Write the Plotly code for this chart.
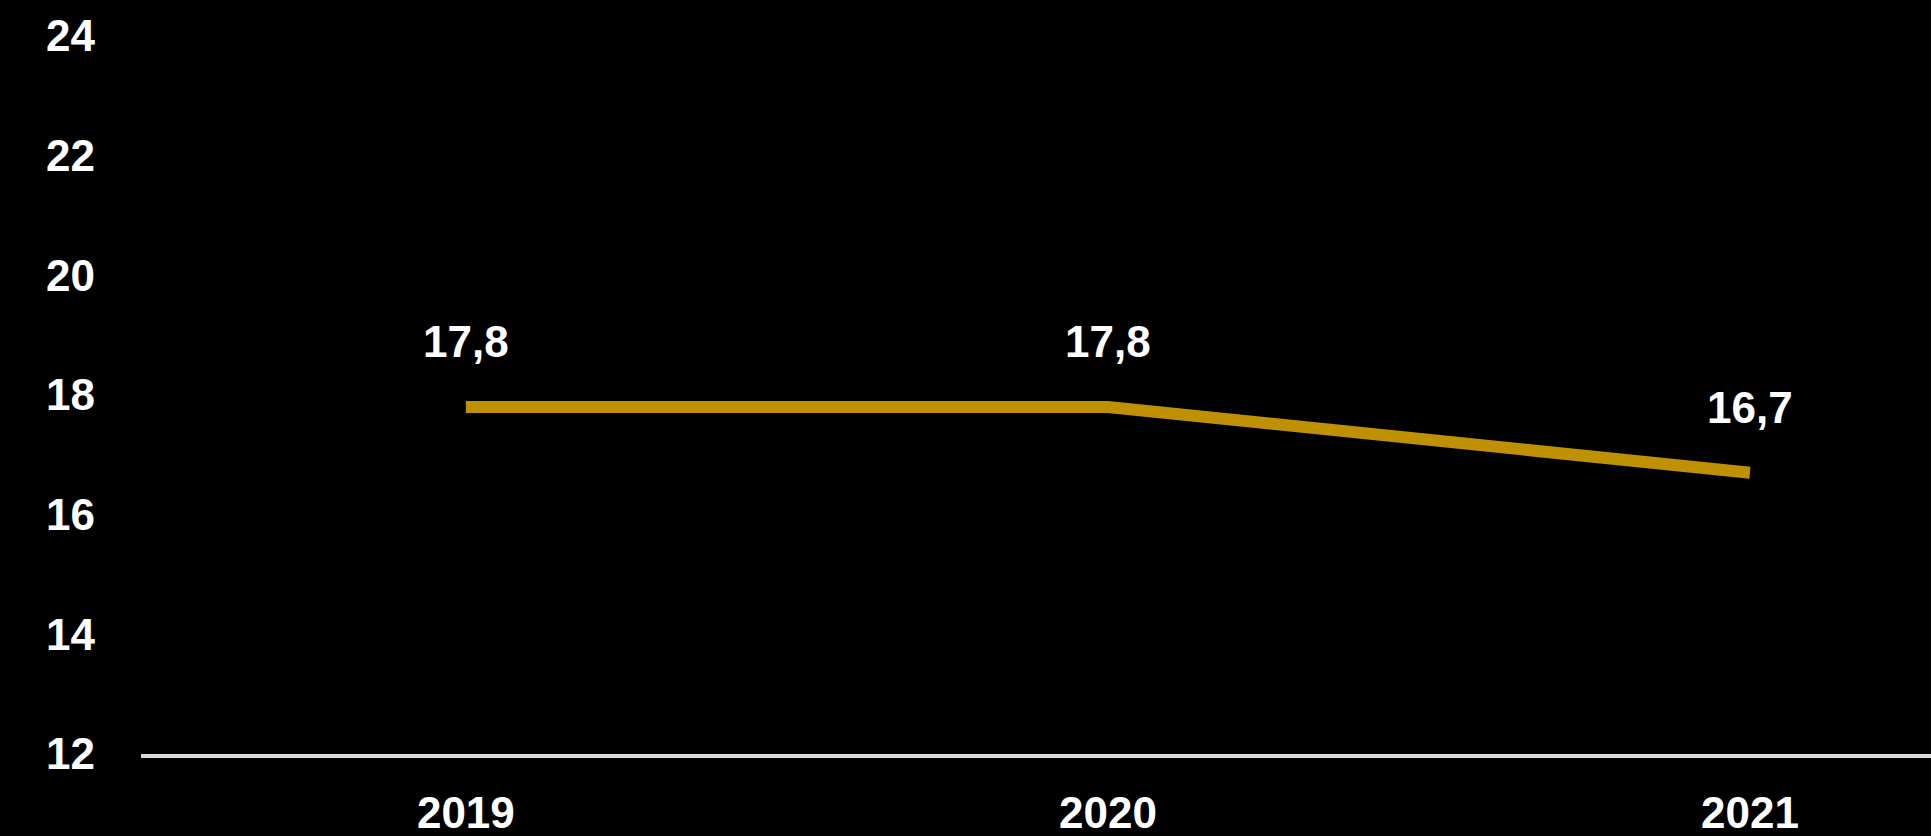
import plotly.graph_objects as go

years = ["2019", "2020", "2021"]
values = [17.8, 17.8, 16.7]
value_labels = ["17,8", "17,8", "16,7"]
y_ticks = [12, 14, 16, 18, 20, 22, 24]

FONT = "Liberation Sans, Arial, sans-serif"
FS = 44

fig = go.Figure()
fig.add_trace(go.Scatter(
    x=years, y=values, mode="lines",
    line=dict(color="#BF9000", width=12),
    hoverinfo="skip", showlegend=False,
))

for i, (v, lab) in enumerate(zip(values, value_labels)):
    fig.add_annotation(
        x=i, y=v, xref="x", yref="y", text="<b>%s</b>" % lab, showarrow=False,
        yshift=65, xanchor="center", yanchor="middle",
        font=dict(family=FONT, size=FS, color="#ffffff"),
    )

fig.update_layout(
    width=1931, height=836,
    margin=dict(l=141, r=0, t=36, b=82, pad=0),
    paper_bgcolor="#000000", plot_bgcolor="#000000",
    showlegend=False,
    xaxis=dict(
        type="category", range=[-0.506, 2.282], automargin=False,
        showgrid=False, zeroline=False,
        showline=True, linecolor="#d9d9d9", linewidth=4,
        ticks="", ticklabelstandoff=17,
        tickfont=dict(family=FONT, size=FS, color="#ffffff", weight="bold"),
    ),
    yaxis=dict(
        range=[12, 24], tickvals=y_ticks, ticktext=[str(t) for t in y_ticks],
        automargin=False,
        showgrid=False, zeroline=False, showline=False,
        ticks="", ticklabelstandoff=45,
        tickfont=dict(family=FONT, size=FS, color="#ffffff", weight="bold"),
    ),
)

fig.write_html(
    "out.html",
    config={"displayModeBar": False},
    post_script="document.body.style.margin='0';document.body.style.background='#000';document.body.style.overflow='hidden';",
)
